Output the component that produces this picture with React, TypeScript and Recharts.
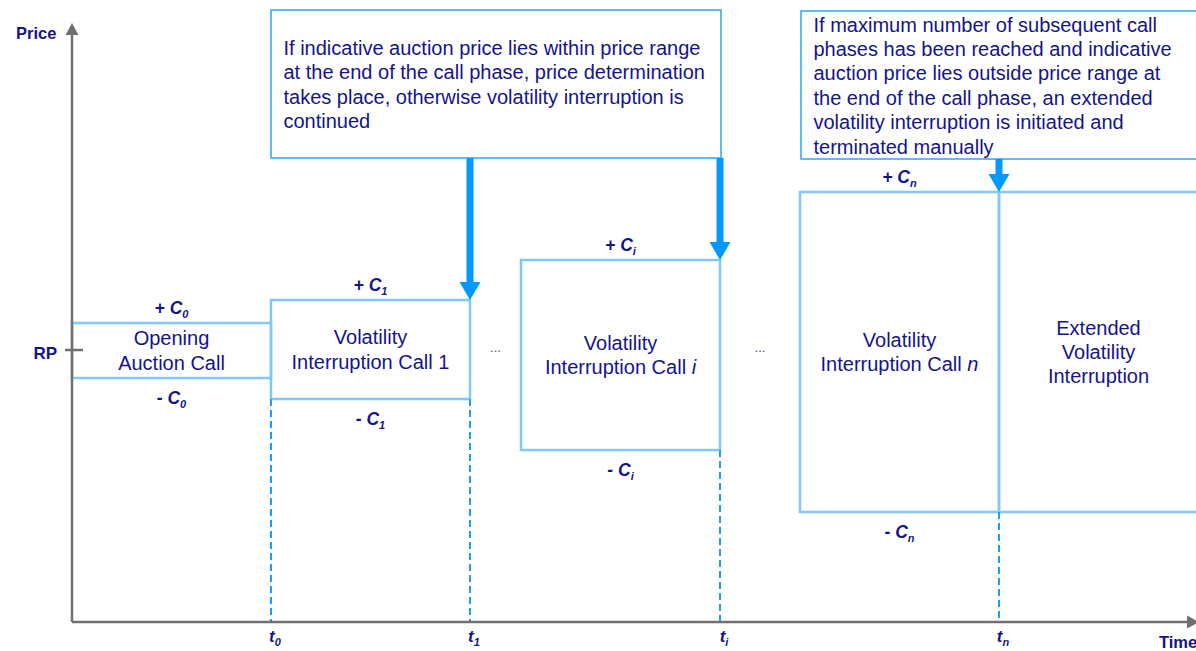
import React from 'react';
import { ComposedChart, XAxis, YAxis, ReferenceArea, ReferenceLine, Scatter } from 'recharts';

// ---------- data ----------
const phaseTitles: string[][] = [
  ['Opening', 'Auction Call'],
  ['Volatility', 'Interruption Call '],
  ['Volatility', 'Interruption Call '],
  ['Volatility', 'Interruption Call '],
  ['Extended', 'Volatility', 'Interruption'],
];
const phaseSuffix = ['', '1', 'i', 'n', ''];
const phaseStart = [0, 1.99, 4.49, 7.28, 9.27];
const phaseEnd = [1.99, 3.98, 6.48, 9.27, 11.26];
const upperLimit = [0.27, 0.5, 0.9, 1.58, 1.58];
const lowerLimit = [-0.28, -0.49, -1.0, -1.62, -1.62];
const limitIndex = ['0', '1', 'i', 'n', ''];

const timeTicks = [1.99, 3.98, 6.48, 9.27];
const timeIndex = ['0', '1', 'i', 'n'];

const note1Lines = [
  'If indicative auction price lies within price range',
  'at the end of the call phase, price determination',
  'takes place, otherwise volatility interruption is',
  'continued',
];
const note2Lines = [
  'If maximum number of subsequent call',
  'phases has been reached and indicative',
  'auction price lies outside price range at',
  'the end of the call phase, an extended',
  'volatility interruption is initiated and',
  'terminated manually',
];
const noteTexts = [note1Lines, note2Lines];
const noteStart = [1.99, 7.29];
const noteEnd = [6.49, 11.3];
const noteTop = [3.4, 3.39];
const noteBottom = [1.92, 1.91];

const arrowX = [3.98, 6.48, 9.27];
const arrowTarget = [0.5, 0.9, 1.58];
const arrowSource = [1.92, 1.92, 1.91];

const xMin = 0;
const xMax = 11.24;
const yMin = -2.72;
const yMax = 3.5;
const yAxisTop = 3.27;
const xAxisEnd = 11.27;

// ---------- styles ----------
const FONT = '"Liberation Sans", Arial, Helvetica, sans-serif';
const NAVY = '#14148a';
const BOX = '#80c8f6';
const NOTE = '#2aa6f4';
const ARROW = '#0099ff';
const DASH = '#1e9ef0';
const AXIS = '#707070';
const LH = 24.4;

// gaps between phases -> ellipsis marks
const gapData = phaseStart
  .map((s, i) => (i > 0 && s > phaseEnd[i - 1] ? { x: (s + phaseEnd[i - 1]) / 2, y: 0 } : null))
  .filter(Boolean) as { x: number; y: number }[];

// dashed time markers start at the deepest lower limit of the boxes touching them
const dashTop = timeTicks.map((t) => {
  let m = 0;
  phaseStart.forEach((s, i) => {
    if (Math.abs(s - t) < 1e-6 || Math.abs(phaseEnd[i] - t) < 1e-6) m = Math.min(m, lowerLimit[i]);
  });
  return m;
});

const arrowShape = (shaft: number, headLen: number, headW: number, color: string) => (p: any) => {
  const x1 = Number(p.x1), y1 = Number(p.y1), x2 = Number(p.x2), y2 = Number(p.y2);
  const dx = x2 - x1, dy = y2 - y1;
  const len = Math.hypot(dx, dy) || 1;
  const ux = dx / len, uy = dy / len;
  const bx = x2 - ux * headLen, by = y2 - uy * headLen;
  const px = -uy, py = ux;
  const hw = headW / 2;
  return (
    <g>
      <line x1={x1} y1={y1} x2={bx + ux * 0.5} y2={by + uy * 0.5} stroke={color} strokeWidth={shaft} />
      <polygon points={`${x2},${y2} ${bx + px * hw},${by + py * hw} ${bx - px * hw},${by - py * hw}`} fill={color} />
    </g>
  );
};

const phaseShape = (i: number) => (p: any) => {
  const { x, y, width, height } = p;
  const cx = x + width / 2;
  const cy = y + height / 2;
  const lines = phaseTitles[i];
  const y0 = cy - ((lines.length - 1) * LH) / 2 + 7;
  const suf = phaseSuffix[i];
  const italicSuf = /[a-z]/.test(suf);
  return (
    <g>
      <rect x={x} y={y} width={width} height={height} fill="none" stroke={BOX} strokeWidth={2.5} />
      <text textAnchor="middle" fontFamily={FONT} fontSize={20} fill={NAVY}>
        {lines.map((ln, k) => (
          <tspan key={k} x={cx} y={y0 + k * LH}>
            {ln}
            {k === lines.length - 1 && suf ? (
              <tspan fontStyle={italicSuf ? 'italic' : 'normal'}>{suf}</tspan>
            ) : null}
          </tspan>
        ))}
      </text>
      {limitIndex[i] ? (
        <g>
          <text x={cx} y={y - 9} textAnchor="middle" fontFamily={FONT} fontSize={17.5} fontWeight="bold" fontStyle="italic" fill={NAVY}>
            + C<tspan fontSize={11} dy={4}>{limitIndex[i]}</tspan>
          </text>
          <text x={cx} y={y + height + 26} textAnchor="middle" fontFamily={FONT} fontSize={17.5} fontWeight="bold" fontStyle="italic" fill={NAVY}>
            - C<tspan fontSize={11} dy={4}>{limitIndex[i]}</tspan>
          </text>
        </g>
      ) : null}
    </g>
  );
};

const noteShape = (i: number) => (p: any) => {
  const { x, y, width, height } = p;
  const lines = noteTexts[i];
  const cy = y + height / 2;
  const y0 = cy - ((lines.length - 1) * LH) / 2 + 7.5;
  return (
    <g>
      <rect x={x} y={y} width={width} height={height} fill="#fff" stroke={NOTE} strokeWidth={1.5} />
      <text fontFamily={FONT} fontSize={20} fill={NAVY}>
        {lines.map((ln, k) => (
          <tspan key={k} x={x + 12.5} y={y0 + k * LH}>
            {ln}
          </tspan>
        ))}
      </text>
    </g>
  );
};

const TimeTick = (p: any) => {
  const { x, y, payload } = p;
  const idx = timeTicks.findIndex((t) => Math.abs(t - payload.value) < 1e-6);
  return (
    <text x={x + 4} y={y + 20} textAnchor="middle" fontFamily={FONT} fontSize={17} fontWeight="bold" fontStyle="italic" fill={NAVY}>
      t<tspan fontSize={11} dy={4}>{timeIndex[idx]}</tspan>
    </text>
  );
};

const PriceTick = (p: any) => {
  const { x, y } = p;
  return (
    <g>
      <line x1={x - 7} y1={y} x2={x + 11} y2={y} stroke={AXIS} strokeWidth={2.5} />
      <text x={x - 15} y={y + 9} textAnchor="end" fontFamily={FONT} fontSize={17} fontWeight="bold" fill={NAVY}>
        RP
      </text>
    </g>
  );
};

const PriceLabel = (p: any) => {
  const vb = p.viewBox || { x: 0, y: 0 };
  return (
    <text x={vb.x + 16} y={vb.y + 39} fontFamily={FONT} fontSize={16.5} fontWeight="bold" fill={NAVY}>
      Price
    </text>
  );
};

const TimeLabel = (p: any) => {
  const vb = p.viewBox || { x: 0, y: 0, width: 0 };
  return (
    <text x={vb.x + vb.width - 37} y={vb.y + 26} fontFamily={FONT} fontSize={16.5} fontWeight="bold" fill={NAVY}>
      Time
    </text>
  );
};

const Ellipsis = (p: any) => (
  <text x={p.cx} y={p.cy + 2} textAnchor="middle" fontFamily={FONT} fontSize={13} fill="#4a4a7a">
    ...
  </text>
);

export default function App() {
  return (
    <div style={{ position: 'absolute', left: 0, top: 0, width: 1196, height: 651, background: '#fff' }}>
      <ComposedChart width={1196} height={651} margin={{ top: 0, right: 0, bottom: 0, left: 0 }}>
        <XAxis
          type="number"
          dataKey="x"
          domain={[xMin, xMax]}
          ticks={timeTicks}
          interval={0}
          height={29}
          axisLine={false}
          tickLine={false}
          tickSize={0}
          tickMargin={0}
          tick={<TimeTick />}
          label={{ content: <TimeLabel /> }}
        />
        <YAxis
          type="number"
          dataKey="y"
          domain={[yMin, yMax]}
          ticks={[0]}
          interval={0}
          width={72}
          axisLine={false}
          tickLine={false}
          tickSize={0}
          tickMargin={0}
          tick={<PriceTick />}
          label={{ content: <PriceLabel /> }}
        />

        {phaseStart.map((s, i) => (
          <ReferenceArea
            key={`ph${i}`}
            x1={s}
            x2={phaseEnd[i]}
            y1={lowerLimit[i]}
            y2={upperLimit[i]}
            ifOverflow="visible"
            shape={phaseShape(i)}
          />
        ))}

        {noteStart.map((s, i) => (
          <ReferenceArea
            key={`nt${i}`}
            x1={s}
            x2={noteEnd[i]}
            y1={noteBottom[i]}
            y2={noteTop[i]}
            ifOverflow="visible"
            shape={noteShape(i)}
          />
        ))}

        {timeTicks.map((t, i) => (
          <ReferenceLine
            key={`d${i}`}
            segment={[{ x: t, y: dashTop[i] }, { x: t, y: yMin }]}
            stroke={DASH}
            strokeWidth={2}
            strokeDasharray="7 4"
            ifOverflow="visible"
          />
        ))}

        {arrowX.map((x, i) => (
          <ReferenceLine
            key={`a${i}`}
            segment={[{ x, y: arrowSource[i] }, { x, y: arrowTarget[i] }]}
            ifOverflow="visible"
            shape={arrowShape(7, 18, 21, ARROW)}
          />
        ))}

        <ReferenceLine
          segment={[{ x: xMin, y: yMin }, { x: xMin, y: yAxisTop }]}
          ifOverflow="visible"
          shape={arrowShape(2.5, 12, 13, AXIS)}
        />
        <ReferenceLine
          segment={[{ x: xMin, y: yMin }, { x: xAxisEnd, y: yMin }]}
          ifOverflow="visible"
          shape={arrowShape(2.5, 12, 13, AXIS)}
        />

        <Scatter data={gapData} dataKey="y" shape={<Ellipsis />} isAnimationActive={false} />
      </ComposedChart>
    </div>
  );
}
